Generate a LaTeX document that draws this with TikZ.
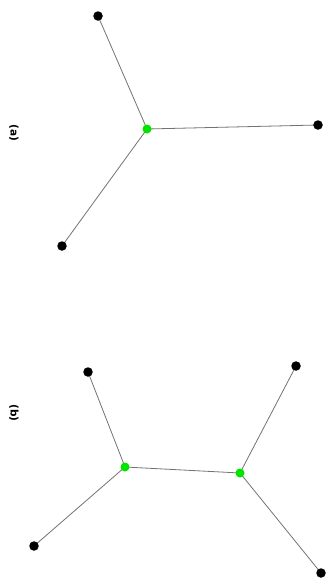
\documentclass[tikz,border=0pt]{standalone}
\usepackage{fontspec}
\setmainfont{DejaVu Sans}
\begin{document}
\begin{tikzpicture}[x=1pt,y=-1pt,
  edge/.style={draw=black!55,line width=0.8pt},
  leaf/.style={circle,fill=black,inner sep=0pt,minimum size=9.5pt},
  hub/.style={circle,fill=green!90!black,inner sep=0pt,minimum size=9pt},
  lbl/.style={font=\bfseries\fontsize{10.5}{12}\selectfont,rotate=-90,inner sep=0pt}]
\useasboundingbox[fill=white] (0,0) rectangle (326,581);
% (a)
\node[lbl] (la) at (14,133) {(a)};
\coordinate (ca) at (147,129);
\coordinate (a1) at (98,16);
\coordinate (a2) at (318,125);
\coordinate (a3) at (62,246);
\draw[edge] (ca) -- (a1) (ca) -- (a2) (ca) -- (a3);
\node[leaf] (na1) at (a1) {};
\node[leaf] (na2) at (a2) {};
\node[leaf] (na3) at (a3) {};
\node[hub] (nca) at (ca) {};
% (b)
\node[lbl] (lb) at (14,413) {(b)};
\coordinate (cb1) at (125,467);
\coordinate (cb2) at (240,473);
\coordinate (b1) at (88,372);
\coordinate (b2) at (34,546);
\coordinate (b3) at (296,366);
\coordinate (b4) at (321,573);
\draw[edge] (cb1) -- (cb2) (cb1) -- (b1) (cb1) -- (b2) (cb2) -- (b3) (cb2) -- (b4);
\node[leaf] (nb1) at (b1) {};
\node[leaf] (nb2) at (b2) {};
\node[leaf] (nb3) at (b3) {};
\node[leaf] (nb4) at (b4) {};
\node[hub] (ncb1) at (cb1) {};
\node[hub] (ncb2) at (cb2) {};
\end{tikzpicture}
\end{document}
